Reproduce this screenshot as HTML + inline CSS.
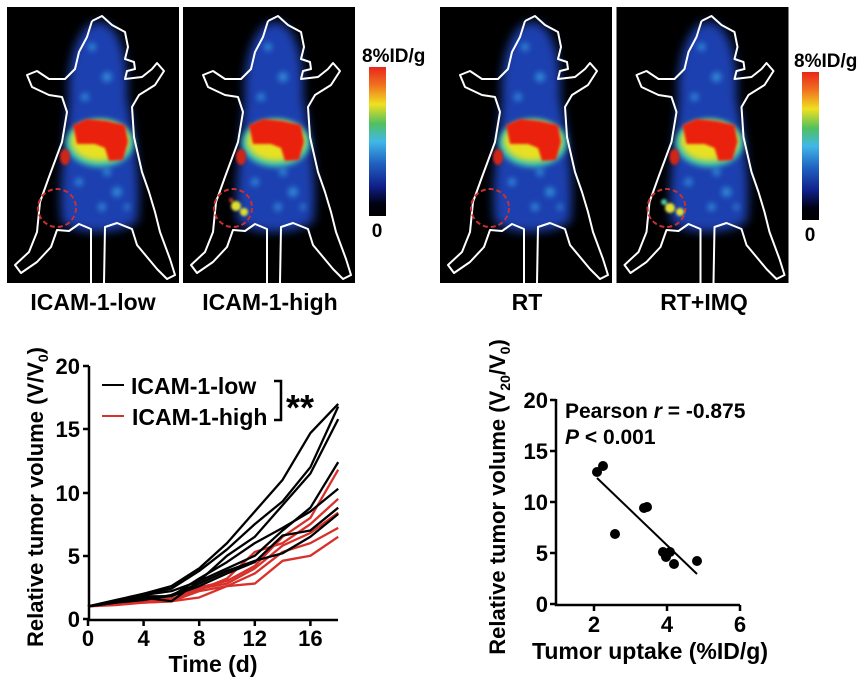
<!DOCTYPE html>
<html><head><meta charset="utf-8"><style>
html,body{margin:0;padding:0;background:#fff;width:866px;height:684px;overflow:hidden}
svg{display:block}
text{font-family:"Liberation Sans",Arial,sans-serif;font-weight:bold;fill:#000}
</style></head><body>
<svg width="866" height="684" viewBox="0 0 866 684" xmlns="http://www.w3.org/2000/svg">
<defs>
<filter id="b5" x="-30%" y="-30%" width="160%" height="160%"><feGaussianBlur stdDeviation="5"/></filter>
<filter id="b3" x="-30%" y="-30%" width="160%" height="160%"><feGaussianBlur stdDeviation="3"/></filter>
<filter id="b1"><feGaussianBlur stdDeviation="1.2"/></filter>
<linearGradient id="cb" x1="0" y1="0" x2="0" y2="1">
<stop offset="0" stop-color="#e8261c"/><stop offset="0.12" stop-color="#f07020"/><stop offset="0.25" stop-color="#f0e020"/><stop offset="0.38" stop-color="#50c060"/><stop offset="0.5" stop-color="#40b8e8"/><stop offset="0.65" stop-color="#2060c0"/><stop offset="0.8" stop-color="#10208a"/><stop offset="0.92" stop-color="#000010"/><stop offset="1" stop-color="#000"/>
</linearGradient>
<symbol id="m" viewBox="0 0 172 276" width="172" height="276">
<rect width="172" height="276" fill="#000"/>
<path d="M92 15 C115 15 122 60 120 90 C128 130 135 180 130 215 C110 228 70 228 55 215 C50 180 60 130 62 90 C60 60 70 15 92 15 Z" fill="#1a40b0" filter="url(#b5)"/>
<g fill="#3aa8e8" filter="url(#b3)" opacity="0.7">
<circle cx="85" cy="40" r="4"/><circle cx="100" cy="70" r="5"/><circle cx="78" cy="90" r="4"/><circle cx="110" cy="185" r="5"/><circle cx="72" cy="175" r="4"/><circle cx="95" cy="200" r="4"/><circle cx="120" cy="200" r="3"/><circle cx="100" cy="165" r="4"/>
</g>
<ellipse cx="93" cy="136" rx="34" ry="24" fill="#40c8b0" filter="url(#b3)"/>
<ellipse cx="93" cy="134" rx="29" ry="20" fill="#e8e020" filter="url(#b3)"/>
<path d="M66 118 L80 112 L100 114 L118 118 L121 135 L116 153 L102 154 L98 141 L88 137 L70 137 Z" fill="#ea2010" filter="url(#b1)"/>
<ellipse cx="58" cy="150" rx="5" ry="8" fill="#d02818" filter="url(#b1)"/>
<path d="M85 14 L95 9 L105 18 L118 25 L121 40 L118 52 L127 55 L128 62 L120 64 L118 72 L135 70 L145 62 L150 56 L157 64 L148 78 L132 88 L125 100 L127 130 L135 165 L142 185 L148 205 L153 225 L163 252 L168 268 L160 272 L150 262 L140 250 L130 238 L125 222 L110 216 L98 220 L97 276" fill="none" stroke="#fff" stroke-width="2" stroke-linejoin="round"/>
<path d="M84 276 L84 222 L72 217 L62 224 L50 223 L44 240 L30 255 L14 266 L8 258 L22 245 L30 225 L33 195 L42 170 L55 135 L60 105 L55 90 L42 88 L25 80 L20 68 L30 64 L42 72 L58 72 L68 62 L72 45 L80 30 L85 14" fill="none" stroke="#fff" stroke-width="2" stroke-linejoin="round"/>
<circle cx="50" cy="201" r="19" fill="none" stroke="#c83030" stroke-width="2" stroke-dasharray="5,3"/>
</symbol>
</defs>

<use href="#m" x="7" y="7" width="172" height="276"/>
<use href="#m" x="182" y="7" width="174" height="276"/>
<g filter="url(#b1)"><circle cx="236" cy="206" r="5" fill="#e0e030"/><circle cx="244" cy="212" r="4" fill="#e0e030"/><circle cx="231" cy="200" r="2" fill="#e03020"/></g>
<rect x="369" y="67" width="17" height="149" fill="url(#cb)"/>
<text x="362" y="62" font-size="19">8%ID/g</text>
<text x="377" y="237" font-size="19" text-anchor="middle">0</text>

<use href="#m" x="440" y="7" width="172" height="276"/>
<use href="#m" x="616" y="7" width="173" height="276"/>
<g filter="url(#b1)"><circle cx="670" cy="208" r="5" fill="#e0e030"/><circle cx="680" cy="212" r="4" fill="#e0e030"/><circle cx="664" cy="202" r="3" fill="#50c8a0"/></g>
<rect x="802" y="72" width="17" height="148" fill="url(#cb)"/>
<text x="794" y="67" font-size="19">8%ID/g</text>
<text x="810" y="241" font-size="19" text-anchor="middle">0</text>

<text x="93" y="310" font-size="23" text-anchor="middle">ICAM-1-low</text>
<text x="270" y="310" font-size="23" text-anchor="middle">ICAM-1-high</text>
<text x="527" y="310" font-size="23" text-anchor="middle">RT</text>
<text x="704" y="310" font-size="23" text-anchor="middle">RT+IMQ</text>

<g stroke="#000" stroke-width="2.5" fill="none">
<path d="M89 366 V620 H338"/>
<path d="M83 366 H89 M83 429 H89 M83 493 H89 M83 556 H89 M83 619 H89"/>
<path d="M88 620 V626 M143.6 620 V626 M199.2 620 V626 M254.8 620 V626 M310.4 620 V626"/>
</g>
<g font-size="22" text-anchor="end">
<text x="80" y="374">20</text><text x="80" y="437">15</text><text x="80" y="501">10</text><text x="80" y="564">5</text><text x="80" y="627">0</text>
</g>
<g font-size="22" text-anchor="middle">
<text x="88" y="646">0</text><text x="143.6" y="646">4</text><text x="199.2" y="646">8</text><text x="254.8" y="646">12</text><text x="310.4" y="646">16</text>
</g>
<text x="213" y="672" font-size="23" text-anchor="middle">Time (d)</text>
<text transform="translate(43,497) rotate(-90)" font-size="22" text-anchor="middle">Relative tumor volume (V/V<tspan font-size="14" dy="5">0</tspan><tspan dy="-5">)</tspan></text>

<g transform="translate(88,619) scale(13.9,-12.65)" fill="none" stroke-width="2.3" stroke-linejoin="round">
<g stroke="#d8302a">
<polyline vector-effect="non-scaling-stroke" points="0,1 2,1.2 4,1.4 6,1.5 8,2.5 10,3 12,4.2 14,6.5 16,8 18,11.8"/>
<polyline vector-effect="non-scaling-stroke" points="0,1 2,1.2 4,1.5 6,1.6 8,2.3 10,3.2 12,5.3 14,6 16,7.5 18,9.5"/>
<polyline vector-effect="non-scaling-stroke" points="0,1 2,1.2 4,1.4 6,1.5 8,2.4 10,2.8 12,4 14,5.8 16,6.8 18,8.4"/>
<polyline vector-effect="non-scaling-stroke" points="0,1 2,1.2 4,1.3 6,1.4 8,2.2 10,2.6 12,3.6 14,5.3 16,6 18,7.2"/>
<polyline vector-effect="non-scaling-stroke" points="0,1 2,1.1 4,1.3 6,1.4 8,1.7 10,2.6 12,2.8 14,4.6 16,5 18,6.5"/>
</g>
<g stroke="#000">
<polyline vector-effect="non-scaling-stroke" points="0,1 2,1.5 4,2 6,2.6 8,4 10,6 12,8.5 14,11 16,14.7 18,17"/>
<polyline vector-effect="non-scaling-stroke" points="0,1 2,1.4 4,2 6,2.4 8,3.8 10,5.5 12,7.5 14,9.3 16,12 18,16.8"/>
<polyline vector-effect="non-scaling-stroke" points="0,1 2,1.3 4,1.7 6,1.4 8,3 10,5 12,6.5 14,9 16,11.5 18,15.8"/>
<polyline vector-effect="non-scaling-stroke" points="0,1 2,1.4 4,1.9 6,2.2 8,3 10,4 12,5 14,7 16,8.8 18,12.4"/>
<polyline vector-effect="non-scaling-stroke" points="0,1 2,1.4 4,1.8 6,1.8 8,3.2 10,4.5 12,6 14,7.2 16,8.5 18,10.3"/>
<polyline vector-effect="non-scaling-stroke" points="0,1 2,1.3 4,1.6 6,1.8 8,2.6 10,3.6 12,4.5 14,6.6 16,7 18,8.8"/>
<polyline vector-effect="non-scaling-stroke" points="0,1 2,1.3 4,1.5 6,1.9 8,2.8 10,3.8 12,4.6 14,5.2 16,6.5 18,8.3"/>
</g>
</g>
<line x1="102" y1="385" x2="124" y2="385" stroke="#000" stroke-width="2"/>
<line x1="102" y1="416" x2="124" y2="416" stroke="#d8302a" stroke-width="2"/>
<text x="131" y="394" font-size="23">ICAM-1-low</text>
<text x="132" y="425" font-size="23">ICAM-1-high</text>
<path d="M274 381 H281 V420 H274" fill="none" stroke="#000" stroke-width="2.5"/>
<text x="286" y="420" font-size="36">**</text>

<g stroke="#000" stroke-width="2.5" fill="none">
<path d="M556 399 V605 H740"/>
<path d="M550 400 H556 M550 451 H556 M550 502 H556 M550 553 H556 M550 604 H556"/>
<path d="M594 605 V611 M667 605 V611 M740 605 V611"/>
</g>
<g font-size="22" text-anchor="end">
<text x="548" y="408">20</text><text x="548" y="459">15</text><text x="548" y="510">10</text><text x="548" y="561">5</text><text x="548" y="612">0</text>
</g>
<g font-size="22" text-anchor="middle">
<text x="594" y="632">2</text><text x="667" y="632">4</text><text x="740" y="632">6</text>
</g>
<text x="650" y="659" font-size="23" text-anchor="middle">Tumor uptake (%ID/g)</text>
<text transform="translate(505,497) rotate(-90)" font-size="22" text-anchor="middle">Relative tumor volume (V<tspan font-size="14" dy="5">20</tspan><tspan dy="-5">/V</tspan><tspan font-size="14" dy="5">0</tspan><tspan dy="-5">)</tspan></text>
<text x="565" y="418" font-size="21">Pearson <tspan font-style="italic">r</tspan> = -0.875</text>
<text x="565" y="444" font-size="21"><tspan font-style="italic">P</tspan> &lt; 0.001</text>
<line x1="597" y1="478" x2="697" y2="574" stroke="#000" stroke-width="2"/>
<g fill="#000">
<circle cx="597" cy="472" r="5"/><circle cx="603" cy="466" r="5"/><circle cx="615" cy="534" r="5"/><circle cx="644" cy="508" r="5"/><circle cx="647" cy="507" r="5"/><circle cx="663" cy="552" r="5"/><circle cx="666" cy="557" r="5"/><circle cx="670" cy="552" r="5"/><circle cx="674" cy="564" r="5"/><circle cx="697" cy="561" r="5"/>
</g>
</svg>
</body></html>
